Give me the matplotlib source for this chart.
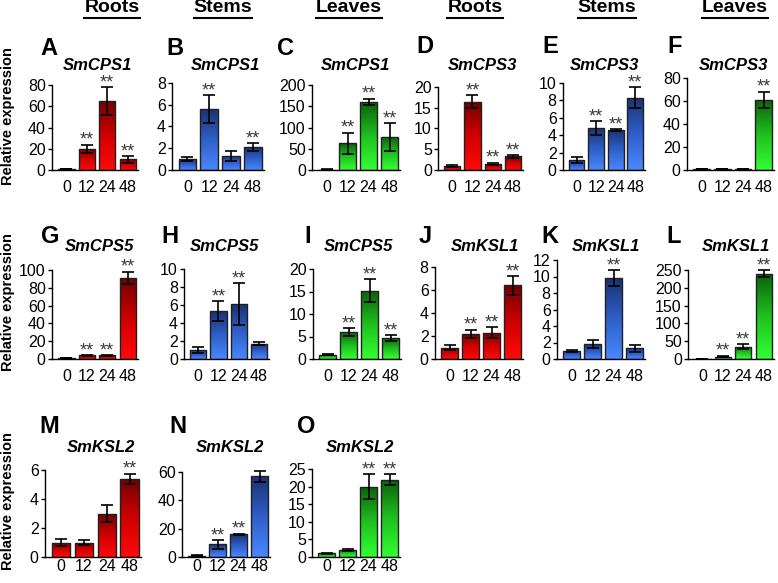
import numpy as np
import matplotlib.pyplot as plt
from matplotlib.colors import LinearSegmentedColormap

plt.rcParams['font.family'] = ['Liberation Sans', 'DejaVu Sans']

hours = ['0', '12', '24', '48']
letters = list('ABCDEFGHIJKLMNO')
genes = ['SmCPS1'] * 3 + ['SmCPS3'] * 3 + ['SmCPS5'] * 3 + ['SmKSL1'] * 3 + ['SmKSL2'] * 3
tissues = ['Roots', 'Stems', 'Leaves'] * 5
headers = ['Roots', 'Stems', 'Leaves', 'Roots', 'Stems', 'Leaves']

means = [
    [1, 20, 65, 10], [1, 5.6, 1.3, 2.1], [1, 63, 160, 78],
    [1, 16.5, 1.5, 3.3], [1.1, 4.8, 4.6, 8.3], [1, 1, 1, 61],
    [1, 4, 4, 91], [1, 5.3, 6.1, 1.7], [1, 6, 15.2, 4.6],
    [1, 2.2, 2.3, 6.4], [1, 1.8, 9.8, 1.3], [1, 7, 35, 240],
    [1, 1, 3, 5.4], [1, 9, 16, 57], [1, 2, 20, 22],
]
errs = [
    [0.3, 4, 13, 3], [0.2, 1.3, 0.45, 0.35], [0.5, 25, 8, 33],
    [0.2, 1.6, 0.3, 0.3], [0.35, 0.8, 0.1, 1.2], [0.1, 0.1, 0.1, 7],
    [0.2, 0.5, 0.5, 7], [0.3, 1.1, 2.3, 0.15], [0.2, 0.9, 2.5, 0.7],
    [0.25, 0.35, 0.45, 0.8], [0.15, 0.5, 1.0, 0.4], [0.2, 2, 7, 10],
    [0.25, 0.15, 0.6, 0.35], [0.2, 3, 0.5, 4], [0.1, 0.3, 3.5, 1.5],
]
sig = [
    [0, 1, 1, 1], [0, 1, 0, 1], [0, 1, 1, 1],
    [0, 1, 1, 1], [0, 1, 1, 1], [0, 0, 0, 1],
    [0, 1, 1, 1], [0, 1, 1, 0], [0, 1, 1, 1],
    [0, 1, 1, 1], [0, 0, 1, 0], [0, 1, 1, 1],
    [0, 0, 0, 1], [0, 1, 1, 1], [0, 0, 1, 1],
]
ymax = [80, 8, 200, 20, 10, 80, 100, 10, 20, 8, 12, 250, 6, 60, 25]
ystep = [20, 2, 50, 5, 2, 20, 20, 2, 5, 2, 2, 50, 2, 20, 5]

W, H = 778, 583
fig = plt.figure(figsize=(W / 100, H / 100), dpi=100)

# pixel layout: axis x, zero line y, top tick y, width
boxes = [
    (52, 170, 85, 86), (172, 170, 83, 92), (312, 170, 85, 88),
    (438, 170, 87, 85), (563, 170, 83, 82), (687, 170, 78, 87),
    (52, 359, 270, 86), (184, 359, 269, 85), (313, 359, 269, 88),
    (435, 359, 267, 88), (557, 359, 260, 88), (688, 359, 270, 86),
    (45, 557, 470, 96), (182, 557, 472, 88), (312, 557, 469, 88),
]
letter_xy = [
    (40, 37), (166, 37), (277, 37), (416, 35), (542, 35), (667, 35),
    (41, 225), (161, 225), (304, 225), (419, 225), (541, 225), (666, 225),
    (39, 415), (169, 415), (297, 415),
]
title_x = [97, 225, 355, 482, 604, 733, 99, 224, 358, 485, 606, 736, 101, 230, 360]
title_y = [66] * 6 + [247] * 6 + [448] * 3
header_x = [112, 223, 349, 475, 607, 735]

cmaps = {
    'Roots': LinearSegmentedColormap.from_list('r', ['#ff0a0a', '#d00000', '#700000']),
    'Stems': LinearSegmentedColormap.from_list('b', ['#4a88ff', '#2f5fc8', '#1a3270']),
    'Leaves': LinearSegmentedColormap.from_list('g', ['#33ff33', '#1fc01f', '#0a600a']),
}
grad = np.linspace(0, 1, 256).reshape(-1, 1)
x = np.arange(4)

for i in range(15):
    lx, zy, ty, w = boxes[i]
    ax = fig.add_axes([lx / W, 1 - zy / H, w / W, (zy - ty) / H])
    bars = ax.bar(x, means[i], 0.8, facecolor='none', edgecolor='#202020', linewidth=1.0, zorder=3)
    for b in bars:
        x0 = b.get_x()
        im = ax.imshow(grad, cmap=cmaps[tissues[i]], origin='lower', aspect='auto',
                       extent=(x0, x0 + b.get_width(), 0, b.get_height()), zorder=2)
        im.set_clip_path(b)
    ax.errorbar(x, means[i], yerr=errs[i], fmt='none', ecolor='black', elinewidth=1.2,
                capsize=4, capthick=1.2, zorder=4, clip_on=False)
    for j in range(4):
        if sig[i][j]:
            ax.annotate('**', (x[j], means[i][j] + errs[i][j]), xytext=(0, -3),
                        textcoords='offset points', ha='center', va='bottom',
                        fontsize=13, color='#3a3a3a')
    ax.set_xlim(-0.7, 3.5)
    ax.set_ylim(0, ymax[i])
    ax.set_yticks(np.arange(0, ymax[i] + ystep[i] / 2, ystep[i]))
    ax.set_xticks(x)
    ax.set_xticklabels(hours)
    for s in ['top', 'right']:
        ax.spines[s].set_visible(False)
    for s in ['left', 'bottom']:
        ax.spines[s].set_linewidth(1.0)
    ax.tick_params(axis='y', length=3, width=1, pad=1.5, labelsize=11.5)
    ax.tick_params(axis='x', length=0, pad=7.5 if i < 12 else 1.5, labelsize=11.5)
    ax.patch.set_visible(False)

    fig.text(letter_xy[i][0] / W, 1 - letter_xy[i][1] / H, letters[i], fontsize=17,
             fontweight='bold', ha='left', va='top')
    fig.text(title_x[i] / W, 1 - title_y[i] / H, genes[i], fontsize=12,
             fontweight='bold', style='italic', ha='center', va='center')

for row_center in [116, 302, 501]:
    fig.text(8 / W, 1 - row_center / H, 'Relative expression', rotation=90,
             fontsize=10.5, fontweight='bold', ha='center', va='center')

renderer = fig.canvas.get_renderer()
for k, name in enumerate(headers):
    t = fig.text(header_x[k] / W, 1 - 8 / H, name, fontsize=14, fontweight='bold',
                 ha='center', va='center')
    bb = t.get_window_extent(renderer)
    fig.add_artist(plt.Line2D([bb.x0 / W, bb.x1 / W], [1 - 17.5 / H, 1 - 17.5 / H],
                              color='black', linewidth=1.5, transform=fig.transFigure))

fig.savefig('out.png', dpi=100)
